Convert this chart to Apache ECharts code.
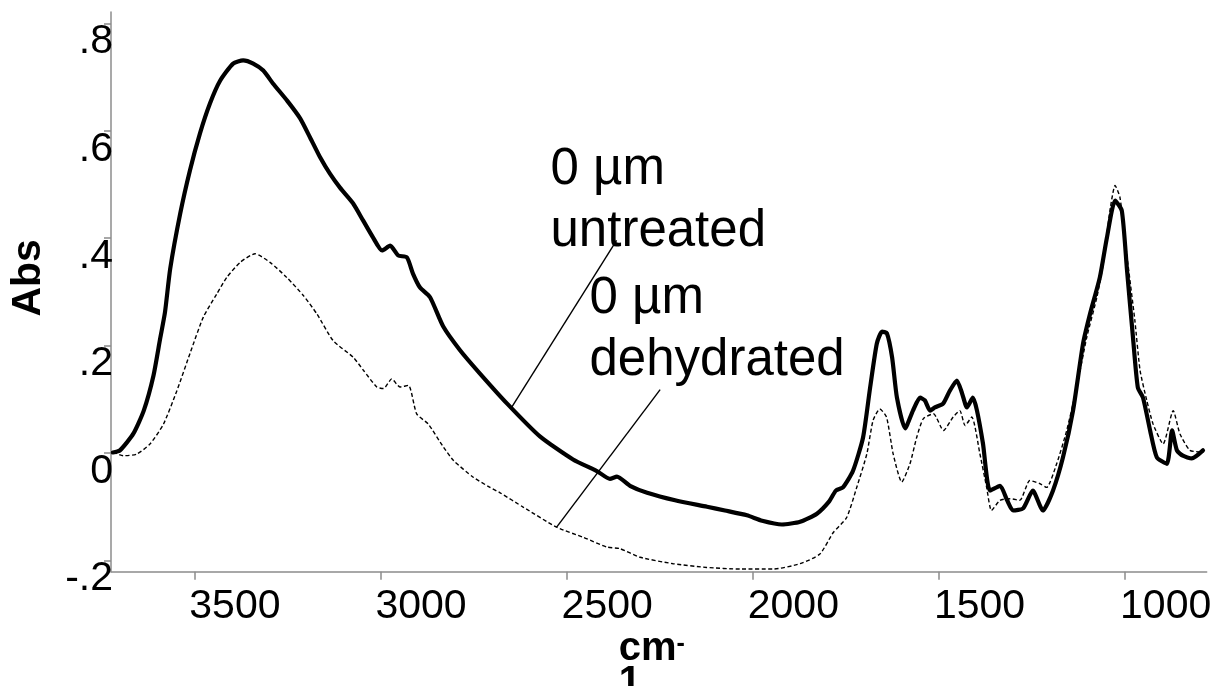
<!DOCTYPE html>
<html>
<head>
<meta charset="utf-8">
<script src="https://cdn.jsdelivr.net/npm/echarts@6/dist/echarts.min.js"></script>
<style>
html,body{margin:0;padding:0;background:#fff;}
#chart{width:1226px;height:686px;}
</style>
</head>
<body>
<div id="chart"></div>
<script>
// ---- data ----
const untreatedWn = [3719,3700,3664,3636,3610,3592,3579,3565,3538,3512,
  3485,3458,3431,3396,3369,3342,3315,3289,3251,3216,
  3189,3162,3136,3109,3074,3047,3020,2996,2974,2953,
  2929,2913,2894,2867,2832,2786,2733,2660,2572,2483,
  2418,2384,2365,2330,2284,2209,2123,2075,2016,1975,
  1922,1873,1828,1795,1777,1758,1731,1704,1685,1667,
  1653,1640,1626,1613,1591,1570,1551,1538,1524,1511,
  1489,1471,1452,1438,1425,1409,1398,1382,1363,1336,
  1317,1301,1274,1248,1221,1194,1167,1140,1113,1094,
  1068,1049,1027,1009,995,979,966,952,933,915,
  888,874,861,845,821,791];
const untreatedAbs = [0.001,0.005,0.036,0.079,0.144,0.213,0.262,0.343,0.446,0.526,
  0.595,0.651,0.693,0.725,0.731,0.725,0.712,0.688,0.656,0.623,
  0.587,0.550,0.520,0.494,0.465,0.433,0.401,0.377,0.386,0.368,
  0.364,0.334,0.308,0.290,0.236,0.191,0.148,0.092,0.031,-0.012,
  -0.034,-0.048,-0.044,-0.061,-0.074,-0.088,-0.100,-0.107,-0.116,-0.126,
  -0.133,-0.128,-0.113,-0.090,-0.070,-0.064,-0.033,0.029,0.122,0.204,
  0.226,0.223,0.178,0.103,0.046,0.079,0.103,0.098,0.079,0.085,
  0.092,0.116,0.135,0.111,0.085,0.103,0.079,0.018,-0.070,-0.061,
  -0.088,-0.107,-0.103,-0.070,-0.107,-0.070,-0.008,0.079,0.204,0.260,
  0.327,0.401,0.470,0.451,0.340,0.215,0.122,0.103,0.042,-0.008,
  -0.020,0.042,0.005,-0.005,-0.010,0.005];

const dehydratedWn = [3718,3691,3655,3619,3583,3547,3512,3476,3440,3413,
  3377,3337,3297,3252,3207,3171,3127,3073,3046,3010,
  2992,2970,2948,2925,2903,2872,2831,2804,2751,2706,
  2679,2616,2527,2455,2392,2357,2303,2214,2124,2034,
  1945,1873,1820,1784,1748,1721,1694,1677,1659,1641,
  1623,1600,1578,1560,1542,1515,1488,1462,1444,1430,
  1412,1390,1372,1359,1336,1309,1283,1256,1229,1211,
  1184,1157,1130,1103,1076,1059,1041,1027,1014,996,
  974,960,942,925,898,871,853,826,790];
const dehydratedAbs = [0.002,-0.005,-0.002,0.017,0.054,0.116,0.185,0.253,0.296,0.327,
  0.355,0.371,0.355,0.327,0.293,0.259,0.209,0.178,0.154,0.123,
  0.120,0.138,0.123,0.126,0.073,0.054,0.011,-0.014,-0.045,-0.064,
  -0.074,-0.101,-0.138,-0.157,-0.175,-0.178,-0.194,-0.206,-0.213,-0.216,
  -0.216,-0.206,-0.188,-0.148,-0.120,-0.064,-0.002,0.061,0.082,0.067,
  -0.002,-0.054,-0.020,0.029,0.064,0.073,0.042,0.067,0.079,0.051,
  0.067,-0.002,-0.064,-0.107,-0.088,-0.085,-0.088,-0.051,-0.057,-0.064,
  -0.020,0.042,0.123,0.216,0.290,0.352,0.451,0.498,0.476,0.371,
  0.247,0.154,0.098,0.054,0.017,0.079,0.036,0.005,0.002];

const xTicks = [3500, 3000, 2500, 2000, 1500, 1000];
const yTicks = [-0.2, 0, 0.2, 0.4, 0.6, 0.8];

const labelTexts = ['0 µm\nuntreated', '0 µm\ndehydrated'];
// leader lines [from (wavenumber, abs)] -> [to (wavenumber, abs)]
const leaderFrom = [[2366, 0.396], [2249, 0.118]];
const leaderTo = [[2648, 0.085], [2527, -0.138]];

// ---- chart ----
const FONT = '"Liberation Sans", Arial, Helvetica, sans-serif';
const AXIS_GRAY = '#8c8c8c';

function pairs(xs, ys) { return xs.map((x, i) => [x, ys[i]]); }
function yFmt(v) {
  if (Math.abs(v) < 1e-9) return '0';
  const s = String(Math.round(Math.abs(v) * 10) / 10).replace(/^0/, '');
  return (v < 0 ? '-' : '') + s;
}

const chart = echarts.init(document.getElementById('chart'), null, {renderer: 'canvas'});
chart.setOption({
  animation: false,
  backgroundColor: '#ffffff',
  grid: {left: 111, right: 19.3, top: 12, bottom: 114.3, containLabel: false, outerBoundsMode: 'none'},
  xAxis: {
    type: 'value',
    inverse: true,
    min: 781,
    max: 3724,
    name: '{b|cm}{s|-}\n{o|1}',
    nameLocation: 'middle',
    nameGap: 60,
    nameMoveOverlap: false,
    nameTextStyle: {
      fontFamily: FONT,
      padding: [0, 14, 0, 0],
      rich: {
        b: {fontSize: 40, fontWeight: 'bold', fontFamily: FONT, color: '#000', lineHeight: 34},
        s: {fontSize: 25, fontWeight: 'bold', fontFamily: FONT, color: '#000', lineHeight: 34, verticalAlign: 'top'},
        o: {fontSize: 40, fontWeight: 'bold', fontFamily: FONT, color: '#000', lineHeight: 34, align: 'left'}
      }
    },
    axisLine: {show: true, onZero: false, lineStyle: {color: AXIS_GRAY, width: 1.5}},
    axisTick: {show: true, length: 8, inside: false, customValues: xTicks, lineStyle: {color: AXIS_GRAY, width: 1.5}},
    axisLabel: {
      customValues: xTicks,
      fontSize: 41, fontFamily: FONT, color: '#000',
      margin: 14,
      align: 'center',
      padding: [0, 0, 0, 81],
      formatter: v => String(v)
    },
    splitLine: {show: false}
  },
  yAxis: {
    type: 'value',
    min: -0.2209,
    max: 0.821,
    name: 'Abs',
    nameLocation: 'middle',
    nameRotate: 90,
    nameGap: 62,
    nameMoveOverlap: false,
    nameTextStyle: {fontSize: 41, fontWeight: 'bold', fontFamily: FONT, color: '#000', padding: [0, 0, 0, 28]},
    axisLine: {show: true, onZero: false, lineStyle: {color: AXIS_GRAY, width: 1.5}},
    axisTick: {show: true, length: 7, inside: false, customValues: yTicks, lineStyle: {color: AXIS_GRAY, width: 1.5}},
    axisLabel: {
      customValues: yTicks,
      fontSize: 41, fontFamily: FONT, color: '#000',
      margin: -2,
      align: 'right',
      verticalAlign: 'top',
      lineHeight: 37,
      formatter: yFmt
    },
    splitLine: {show: false}
  },
  series: [
    {
      name: '0 µm dehydrated',
      type: 'line',
      data: pairs(dehydratedWn, dehydratedAbs),
      showSymbol: false,
      smooth: 0.2,
      lineStyle: {color: '#000', width: 1.4, type: [4, 2.5]},
      z: 2
    },
    {
      name: '0 µm untreated',
      type: 'line',
      data: pairs(untreatedWn, untreatedAbs),
      showSymbol: false,
      smooth: 0.2,
      lineStyle: {color: '#000', width: 4.2, cap: 'round', join: 'round'},
      z: 3,
      markLine: {
        silent: true,
        symbol: ['none', 'none'],
        label: {show: false},
        lineStyle: {color: '#000', width: 1.4, type: 'solid'},
        data: leaderFrom.map((p, i) => [{coord: p}, {coord: leaderTo[i]}])
      }
    }
  ],
  graphic: [
    {type: 'text', x: 550.5, y: 139, z: 10,
     style: {text: labelTexts[0], fontSize: 51, fontFamily: FONT, fill: '#000', lineHeight: 62, align: 'left', verticalAlign: 'top'}},
    {type: 'text', x: 589.5, y: 267.5, z: 10,
     style: {text: labelTexts[1], fontSize: 51, fontFamily: FONT, fill: '#000', lineHeight: 62, align: 'left', verticalAlign: 'top'}}
  ]
});
</script>
</body>
</html>
